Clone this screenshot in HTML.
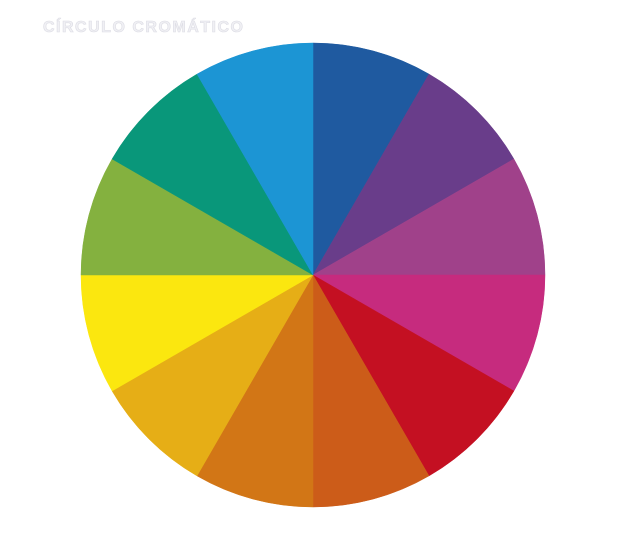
<!DOCTYPE html>
<html><head><meta charset="utf-8"><style>
body{margin:0;background:#fff;width:620px;height:550px;overflow:hidden;font-family:"Liberation Sans",sans-serif}
</style></head><body>
<svg width="620" height="550">
<text x="43" y="32" font-size="16" font-weight="bold" letter-spacing="1.5" fill="#f0f0f4" stroke="#dcdce4" stroke-width="0.6">CÍRCULO CROMÁTICO</text>
<g id="wheel"></g>
</svg>
<script>
const segmentNames=["blue","violet","red-violet","magenta","red","red-orange","orange","yellow-orange","yellow","yellow-green","green","cyan"];
const segmentValues=[1,1,1,1,1,1,1,1,1,1,1,1];
const segmentColors=["#1f5aa0","#693d8a","#a0418a","#c62b7e","#c41022","#cc5c19","#d27616","#e6ae16","#fbe70f","#84b13f","#09977a","#1c95d4"];
const cx=313,cy=275,r=232;
const g=document.getElementById('wheel');
const total=segmentValues.reduce((a,b)=>a+b,0);
let acc=0;
function pt(a){return [cx+r*Math.sin(a),cy-r*Math.cos(a)];}
segmentValues.forEach((v,i)=>{
  const a0=acc/total*2*Math.PI; acc+=v; const a1=acc/total*2*Math.PI;
  const p0=pt(a0),p1=pt(a1);
  const p=document.createElementNS('http://www.w3.org/2000/svg','path');
  p.setAttribute('d',`M${cx},${cy}L${p0[0]},${p0[1]}A${r},${r} 0 ${a1-a0>Math.PI?1:0} 1 ${p1[0]},${p1[1]}Z`);
  p.setAttribute('fill',segmentColors[i]);
  p.setAttribute('stroke',segmentColors[i]);
  p.setAttribute('stroke-width','0.5');
  
  
  g.appendChild(p);
});
</script>
</body></html>
